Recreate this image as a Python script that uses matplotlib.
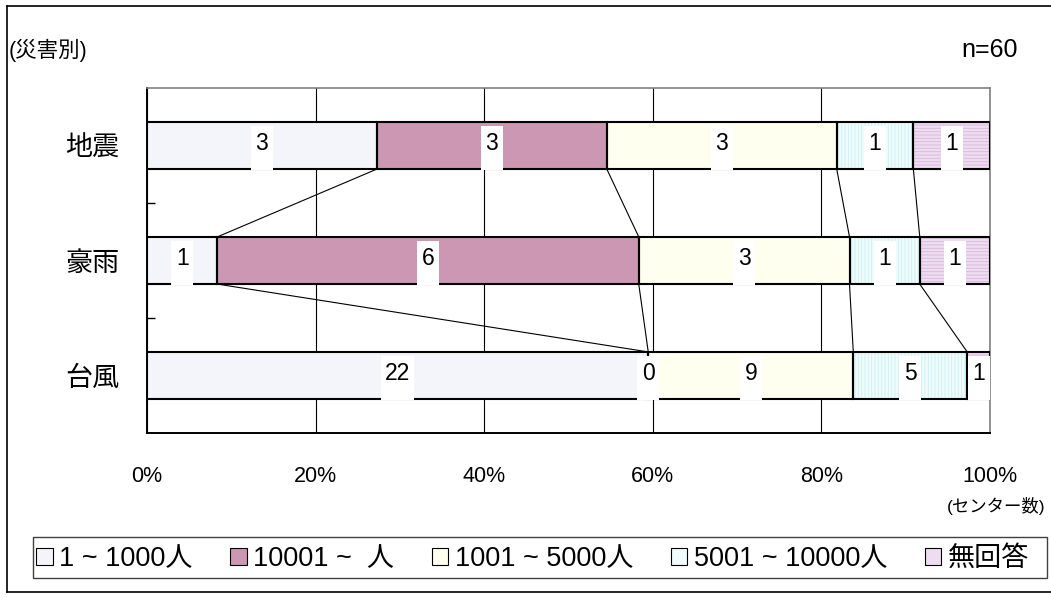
import matplotlib
matplotlib.use("Agg")
import matplotlib.pyplot as plt
from matplotlib.patches import Patch, Rectangle
from matplotlib.lines import Line2D
import numpy as np

plt.rcParams['font.family'] = ['Liberation Sans', 'Noto Sans CJK JP', 'DejaVu Sans']
plt.rcParams['hatch.linewidth'] = 0.6

# ---- data ----
categories = ['地震', '豪雨', '台風']
series_names = ['1 ~ 1000人', '10001 ~  人', '1001 ~ 5000人', '5001 ~ 10000人', '無回答']
values_jishin = [3, 3, 3, 1, 1]
values_gou = [1, 6, 3, 1, 1]
values_taifu = [22, 0, 9, 5, 1]
xtick_labels = ['0%', '20%', '40%', '60%', '80%', '100%']

face_colors = ['#F4F4FB', '#CC97B2', '#FFFFF0', '#EEFCFC', '#EEDCF0']
hatch_styles = [None, None, None, '|||||', '-----']
hatch_colors = ['#F4F4FB', '#CC97B2', '#FFFFF0', '#CDF0F0', '#D6B8DC']

data = np.array([values_jishin, values_gou, values_taifu], dtype=float)
shares = data / data.sum(axis=1, keepdims=True)
cum = np.cumsum(shares, axis=1)
left = cum - shares

W, H = 1051, 597
fig = plt.figure(figsize=(W / 100, H / 100), dpi=100)
ax = fig.add_axes([147 / W, 1 - 433 / H, (990 - 147) / W, (433 - 88) / H])

ypos = np.arange(len(categories))
bar_h = 0.41

for j in range(len(series_names)):
    ax.barh(ypos, shares[:, j], left=left[:, j], height=bar_h,
            color=face_colors[j], hatch=hatch_styles[j],
            edgecolor=hatch_colors[j], linewidth=0, zorder=2)
    ax.barh(ypos, shares[:, j], left=left[:, j], height=bar_h,
            fill=False, edgecolor='black', linewidth=1.5, zorder=3)

# series lines
for i in range(len(categories) - 1):
    for j in range(len(series_names) - 1):
        ax.plot([cum[i, j], cum[i + 1, j]],
                [ypos[i] + bar_h / 2, ypos[i + 1] - bar_h / 2],
                color='black', linewidth=0.8, zorder=3)

# data labels with white boxes
ax_w_px = 990 - 147
for i in range(len(categories)):
    for j in range(len(series_names)):
        v = int(data[i, j])
        txt = str(v)
        xc = left[i, j] + shares[i, j] / 2
        wpx = 11 * len(txt) + 11
        wd = wpx / ax_w_px
        ax.add_patch(Rectangle((xc - wd / 2, ypos[i] - 0.17), wd, 0.385,
                               facecolor='white', edgecolor='none',
                               zorder=4, clip_on=False))
        ax.text(xc, ypos[i] - 0.015, txt, ha='center', va='center',
                fontsize=16.5, zorder=5, clip_on=False)

ax.set_xlim(0, 1)
ax.set_ylim(len(categories) - 0.5, -0.5)
ax.set_xticks(np.linspace(0, 1, len(xtick_labels)))
ax.set_xticklabels(xtick_labels, fontsize=15.5)
ax.tick_params(axis='x', length=0, pad=24)
ax.grid(axis='x', color='black', linewidth=0.8, zorder=1)
ax.set_axisbelow(True)

ax.set_yticks(ypos)
ax.set_yticklabels(categories, fontsize=19.5)
ax.tick_params(axis='y', which='major', length=0, pad=20)
ax.set_yticks(np.arange(len(categories) - 1) + 0.5, minor=True)
ax.tick_params(axis='y', which='minor', direction='in', length=6, width=1.0)

for s in ['left', 'bottom']:
    ax.spines[s].set_color('black')
    ax.spines[s].set_linewidth(1.4)
for s in ['top', 'right']:
    ax.spines[s].set_color('#808080')
    ax.spines[s].set_linewidth(1.2)

# texts
fig.text(9 / W, 1 - 50 / H, '(災害別)', ha='left', va='center', fontsize=15.5)
fig.text(1018 / W, 1 - 50 / H, 'n=60', ha='right', va='center', fontsize=18)
fig.text(1045 / W, 1 - 506 / H, '(センター数)', ha='right', va='center', fontsize=12.5)

# figure border (left, top, bottom)
fig.add_artist(Line2D([7 / W, 7 / W], [1 - 6 / H, 1 - 592 / H],
                      transform=fig.transFigure, color='black', linewidth=1.2))
fig.add_artist(Line2D([7 / W, 1.0], [1 - 6 / H, 1 - 6 / H],
                      transform=fig.transFigure, color='black', linewidth=1.2))
fig.add_artist(Line2D([7 / W, 1.0], [1 - 592 / H, 1 - 592 / H],
                      transform=fig.transFigure, color='black', linewidth=1.2))

# legend frame
fig.add_artist(Rectangle((33 / W, 1 - 578 / H), (1047 - 33) / W, 41 / H,
                         transform=fig.transFigure, facecolor='white',
                         edgecolor='#404040', linewidth=1.0, zorder=0))

handles = [Patch(facecolor=face_colors[j], edgecolor='black', linewidth=0.8)
           for j in range(len(series_names))]
leg = fig.legend(handles, series_names, ncol=5, loc='center left',
                 bbox_to_anchor=(31 / W, 1 - 559 / H),
                 borderaxespad=0, fontsize=19.5,
                 handlelength=0.6, handleheight=0.6, handletextpad=0.25,
                 columnspacing=1.38, frameon=False, borderpad=0.2)

fig.savefig('out.png', dpi=100)
